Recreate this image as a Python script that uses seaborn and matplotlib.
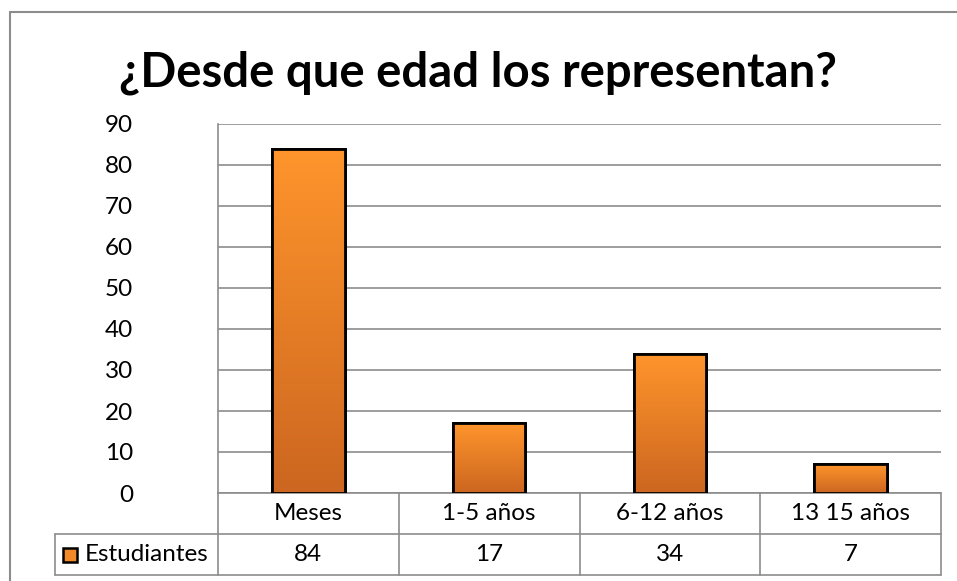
import matplotlib
matplotlib.use("Agg")
import matplotlib.pyplot as plt
import seaborn as sns
import numpy as np
import pandas as pd
from matplotlib.lines import Line2D
from matplotlib.patches import Rectangle
from matplotlib.colors import LinearSegmentedColormap
import matplotlib.transforms as mtransforms

title = "¿Desde que edad los representan?"
categories = ["Meses", "1-5 años", "6-12 años", "13 15 años"]
series_name = "Estudiantes"
values = [84, 17, 34, 7]
yticks = [0, 10, 20, 30, 40, 50, 60, 70, 80, 90]

sns.set_theme(style="white")
plt.rcParams['font.family'] = ['Lato', 'DejaVu Sans']
plt.rcParams['text.color'] = 'black'
plt.rcParams['ytick.color'] = 'black'

W, H = 957, 581
fig = plt.figure(figsize=(W / 100, H / 100), dpi=100)

# plot area in pixels
L, T, R, B = 218, 124, 941, 493
ax = fig.add_axes([L / W, 1 - B / H, (R - L) / W, (B - T) / H])

df = pd.DataFrame({"cat": categories, "val": values})
sns.barplot(data=df, x="cat", y="val", ax=ax, width=0.4, color="#F28A2A",
            edgecolor="black", linewidth=2, zorder=3)

cmap = LinearSegmentedColormap.from_list("og", ["#CC6620", "#FF952C"])
grad = np.linspace(0, 1, 256).reshape(-1, 1)
for p in ax.patches:
    x0, y0 = p.get_x(), p.get_y()
    w, h = p.get_width(), p.get_height()
    im = ax.imshow(grad, cmap=cmap, origin="lower", aspect="auto",
                   extent=[x0, x0 + w, y0, y0 + h], zorder=3.5)
    im.set_clip_path(p)
    edge = Rectangle((x0, y0), w, h, fill=False, edgecolor="black",
                     linewidth=2, zorder=4)
    ax.add_patch(edge)

FS = 17.5
ax.set_xlim(-0.5, len(categories) - 0.5)
ax.set_ylim(0, 90)
ax.set_yticks(yticks)
ax.set_yticklabels([str(v) for v in yticks], fontsize=FS, color="black")
ax.tick_params(axis="y", length=0, pad=61)
ax.set_xticks([])
ax.set_xlabel("")
ax.set_ylabel("")
ax.yaxis.grid(True, color="#8C8C8C", linewidth=1.2, zorder=0)
ax.set_axisbelow(True)
for s in ["top", "right", "bottom"]:
    ax.spines[s].set_visible(False)
ax.spines["left"].set_color("#8C8C8C")
ax.spines["left"].set_linewidth(1.2)

# data table
gc = "#8C8C8C"
row_h = 41 / (B - T)
tr = mtransforms.blended_transform_factory(ax.transData, ax.transAxes)
left_tab = (55 - L) / (R - L)
n = len(categories)

def hline(x0, x1, y, trans):
    ax.add_line(Line2D([x0, x1], [y, y], color=gc, lw=1.2, transform=trans, clip_on=False))

def vline(x, y0, y1, trans):
    ax.add_line(Line2D([x, x], [y0, y1], color=gc, lw=1.2, transform=trans, clip_on=False))

hline(0, 1, 0, ax.transAxes)
hline(left_tab, 1, -row_h, ax.transAxes)
hline(left_tab, 1, -2 * row_h, ax.transAxes)
vline(left_tab, -row_h, -2 * row_h, ax.transAxes)
for i in range(n + 1):
    vline(i - 0.5, 0, -2 * row_h, tr)

for i, (c, v) in enumerate(zip(categories, values)):
    ax.text(i, -0.5 * row_h, c, transform=tr, ha="center", va="center", fontsize=FS,
            color="black")
    ax.text(i, -1.5 * row_h, str(v), transform=tr, ha="center", va="center", fontsize=FS,
            color="black")

# legend key in table
kx = (63 - L) / (R - L)
kw = 14 / (R - L)
kh = 14 / (B - T)
ax.add_patch(Rectangle((kx, -1.5 * row_h - kh / 2), kw, kh, transform=ax.transAxes,
                       facecolor="#F28A2A", edgecolor="black", lw=1.8, clip_on=False))
ax.text((85 - L) / (R - L), -1.5 * row_h, series_name, transform=ax.transAxes,
        ha="left", va="center", fontsize=FS, color="black")

# title
fig.text(478 / W, 1 - 73 / H, title, ha="center", va="center", fontsize=34,
         fontweight="bold", color="black")

# outer chart border (left and top visible)
fig.add_artist(Line2D([10 / W, 10 / W], [0, 1 - 12 / H], color="#8C8C8C", lw=1.5,
                      transform=fig.transFigure))
fig.add_artist(Line2D([10 / W, 1], [1 - 12 / H, 1 - 12 / H], color="#8C8C8C", lw=1.5,
                      transform=fig.transFigure))

fig.savefig("out.png", dpi=100)
